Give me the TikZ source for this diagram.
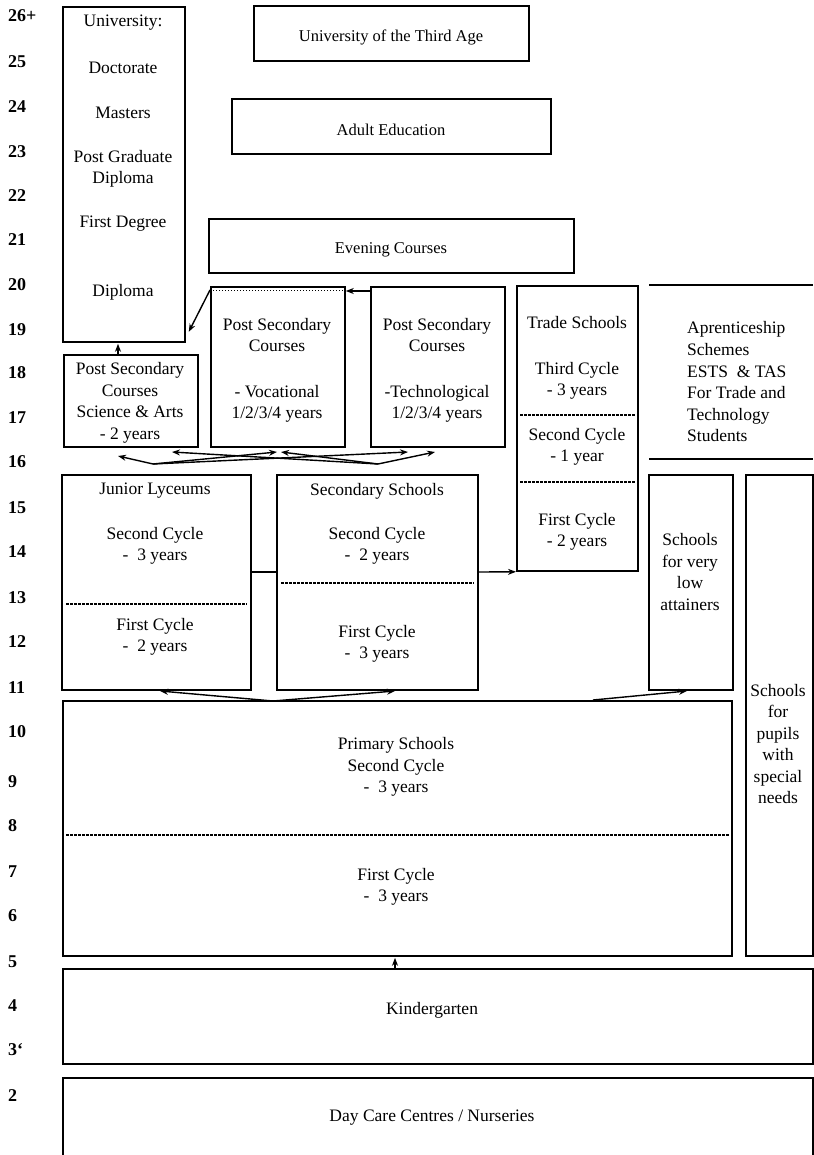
\documentclass[tikz,border=0pt]{standalone}
\usepackage{fontspec}
\setmainfont{Liberation Serif}
\usetikzlibrary{calc,arrows.meta}
\newcommand\mybox[5]{\node[box, minimum width=#4pt, minimum height=#5pt] (#1) at (#2,#3) {};}
\begin{document}
\begin{tikzpicture}[x=1pt,y=-1pt,
  box/.style={draw, line width=1.8pt, inner sep=0, anchor=north west},
  txt/.style={inner sep=0, align=center, font=\fontsize{17.5}{21.5}\selectfont},
  toptxt/.style={inner sep=0, align=center, font=\fontsize{16.5}{20}\selectfont},
  lefttxt/.style={inner sep=0, align=left, anchor=west, font=\fontsize{17.5}{21.6}\selectfont},
  age/.style={inner sep=0, anchor=west, font=\fontsize{18}{20}\selectfont\bfseries},
  arr/.style={line width=1.4pt, -{Stealth[length=8pt,width=6pt]}},
  conn/.style={line width=1.4pt},
  cut/.style={line width=1.1pt, dash pattern=on 3pt off 1pt},
  dots/.style={line width=1pt, dash pattern=on 1pt off 2pt},
  rule/.style={line width=1.8pt},
]
\useasboundingbox (0,0) rectangle (813,1155);
\fill[white] (0,0) rectangle (813,1155);

% ages
\foreach \lab/\yy [count=\i] in {26+/16,25/62,24/107,23/152,22/196,21/240,20/285,19/330,18/373,17/418,16/462,15/508,14/552,13/598,12/642,11/688,10/732,9/782,8/826,7/872,6/916,5/962,4/1006,3`/1050,2/1096}
  \node[age] (age\i) at (8,\yy) {\lab};

% boxes
\mybox{univ}{62}{6}{122}{335}
\mybox{u3a}{253}{5}{275}{55}
\mybox{adult}{231}{98}{319}{55}
\mybox{evening}{208}{218}{365}{54}
\mybox{psvoc}{210}{286}{134}{160}
\mybox{pstech}{370}{286}{134}{160}
\mybox{pssa}{63}{354}{134}{92}
\mybox{trade}{516}{285}{121}{285}
\mybox{jl}{61}{474}{189}{215}
\mybox{ss}{276}{474}{201}{215}
\mybox{lowatt}{648}{474}{84}{215}
\mybox{special}{745}{474}{67}{481}
\mybox{primary}{62}{700}{669}{255}
\mybox{kg}{62}{968}{750}{95}
\mybox{daycare}{62}{1077}{750}{110}

% apprenticeship rules
\coordinate (apTL) at (649,285);
\coordinate (apTR) at (813,285);
\coordinate (apBL) at (649,459);
\coordinate (apBR) at (813,459);
\draw[rule] (apTL) -- (apTR);
\draw[rule] (apBL) -- (apBR);

% inner dashed / dotted lines
\draw[dots] ($(psvoc.north west)+(3,5)$) -- ($(psvoc.north east)+(-3,5)$);
\draw[cut] ($(trade.north west)+(4,130)$) -- ($(trade.north east)+(-4,130)$);
\draw[cut] ($(trade.north west)+(4,197)$) -- ($(trade.north east)+(-4,197)$);
\draw[cut] ($(jl.north west)+(5,130)$) -- ($(jl.north east)+(-5,130)$);
\draw[cut] ($(ss.north west)+(5,109)$) -- ($(ss.north east)+(-5,109)$);
\draw[cut] ($(primary.north west)+(4,135)$) -- ($(primary.north east)+(-4,135)$);

% texts
\node[txt] (tu1) at (123,23) {University:};
\node[txt] (tu2) at (123,68) {Doctorate};
\node[txt] (tu3) at (123,113) {Masters};
\node[txt] (tu4) at (123,169) {Post Graduate\\Diploma};
\node[txt] (tu5) at (123,224) {First Degree};
\node[txt] (tu6) at (123,292) {Diploma};

\node[toptxt] (tu3a) at (391,37) {University of the Third Age};
\node[toptxt] (tadult) at (391,130) {Adult Education};
\node[toptxt] (teve) at (391,250) {Evening Courses};

\node[txt] (tv1) at (277,335) {Post Secondary\\Courses};
\node[txt] (tv2) at (277,404) {- Vocational\\1/2/3/4 years};
\node[txt] (tt1) at (437,335) {Post Secondary\\Courses};
\node[txt] (tt2) at (437,404) {-Technological\\1/2/3/4 years};
\node[txt] (tsa) at (130,403) {Post Secondary\\Courses\\Science \& Arts\\- 2 years};

\node[txt] (tr1) at (577,323) {Trade Schools};
\node[txt] (tr2) at (577,381) {Third Cycle\\- 3 years};
\node[txt] (tr3) at (577,447) {Second Cycle\\- 1 year};
\node[txt] (tr4) at (577,532) {First Cycle\\- 2 years};

\node[lefttxt] (tap) at (687,382) {Aprenticeship\\Schemes\\ESTS\ \ \& TAS\\For Trade and\\Technology\\Students};

\node[txt] (tj1) at (155,491) {Junior Lyceums};
\node[txt] (tj2) at (155,546) {Second Cycle\\- \ 3 years};
\node[txt] (tj3) at (155,637) {First Cycle\\- \ 2 years};
\node[txt] (ts1) at (377,491) {Secondary Schools};
\node[txt] (ts2) at (377,546) {Second Cycle\\- \ 2 years};
\node[txt] (ts3) at (377,644) {First Cycle\\- \ 3 years};

\node[txt] (tlow) at (690,572) {Schools\\for very\\low\\attainers};
\node[txt] (tsp) at (778,744) {Schools\\for\\pupils\\with\\special\\needs};

\node[txt] (tp1) at (396,767) {Primary Schools\\Second Cycle\\- \ 3 years};
\node[txt] (tp2) at (396,887) {First Cycle\\- \ 3 years};
\node[txt] (tkg) at (432,1010) {Kindergarten};
\node[txt] (tdc) at (432,1118) {Day Care Centres / Nurseries};

% connectors
\draw[arr] ($(pssa.north west)+(55,0)$) -- ($(univ.south west)+(56,1)$);
\draw[arr] ($(psvoc.north west)+(0,4)$) -- ($(univ.south east)+(3,-11)$);
\draw[arr] ($(pstech.north west)+(0,5)$) -- ($(psvoc.north east)+(0,5)$);

\coordinate (jA) at (153,464);
\coordinate (jB) at (378,464);
\coordinate (eSA1) at (118,456);
\coordinate (eSA2) at (172,452);
\coordinate (eV1) at (277,452);
\coordinate (eV2) at (281,452);
\coordinate (eT1) at (408,452);
\coordinate (eT2) at (435,452);
\draw[arr] (jA) -- (eSA1);
\draw[arr] (jA) -- (eV1);
\draw[arr] (jA) -- (eT1);
\draw[arr] (jB) -- (eSA2);
\draw[arr] (jB) -- (eV2);
\draw[arr] (jB) -- (eT2);

\draw[conn] ($(jl.north east)+(0,98)$) -- ($(ss.north west)+(0,98)$);
\draw[arr] ($(ss.north east)+(0,98)$) -- (trade.south west);

\coordinate (pA) at (273,701);
\coordinate (pB) at (593,700);
\coordinate (eJ) at (160,691);
\coordinate (eS) at (395,691);
\coordinate (eL) at (687,691);
\draw[arr] (pA) -- (eJ);
\draw[arr] (pA) -- (eS);
\draw[arr] (pB) -- (eL);

\draw[arr] ($(kg.north west)+(333,0)$) -- ($(primary.south west)+(333,1)$);
\end{tikzpicture}
\end{document}
